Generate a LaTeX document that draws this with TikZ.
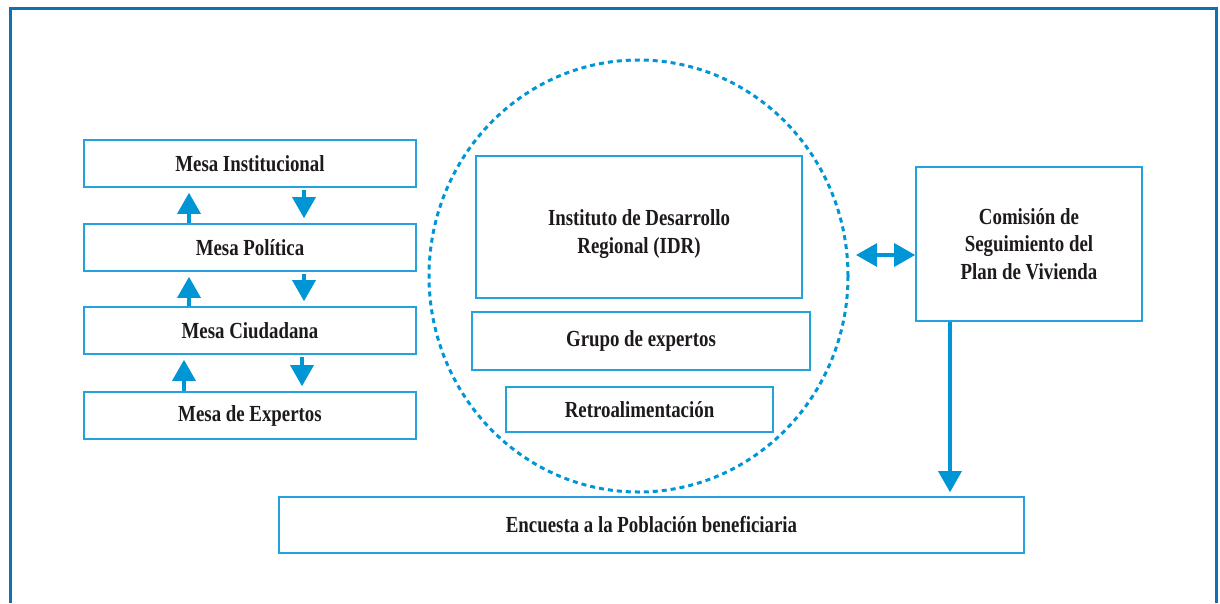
\documentclass[tikz,border=0pt]{standalone}
\usepackage{fontspec}
\setmainfont{Liberation Serif}[FakeStretch=0.82]
\usetikzlibrary{arrows.meta,shapes.geometric}
\definecolor{frameblue}{RGB}{16,112,180}
\definecolor{boxblue}{RGB}{35,162,222}
\definecolor{arrowblue}{RGB}{0,150,214}
\definecolor{ink}{RGB}{30,26,27}
\tikzset{
  mesa/.style={draw=boxblue,line width=1.6pt,text=ink,align=center,inner sep=0pt,
    font=\fontsize{23}{27.5}\selectfont\bfseries},
  flow/.style={draw=arrowblue,line width=3.2pt,-{Triangle[width=23pt,length=21pt]}},
  twoway/.style={draw=arrowblue,line width=3.2pt,{Triangle[width=23pt,length=21pt]}-{Triangle[width=23pt,length=21pt]}}
}
\begin{document}
\begin{tikzpicture}[x=1pt,y=-1pt]
\useasboundingbox (0,0) rectangle (1220,603);
\draw[frameblue,line width=3pt] (10,603) -- (10,8) -- (1216,8) -- (1216,603);

\node[mesa,minimum width=332pt,minimum height=47pt] (mi) at (250,163.5) {Mesa Institucional};
\node[mesa,minimum width=332pt,minimum height=47pt] (mp) at (250,247.5) {Mesa Política};
\node[mesa,minimum width=332pt,minimum height=47pt] (mc) at (250,330.5) {Mesa Ciudadana};
\node[mesa,minimum width=332pt,minimum height=47pt] (me) at (250,415.5) {Mesa de Expertos};

\foreach \lo/\hi/\ux/\dx in {mp/mi/189/304, mc/mp/189/304, me/mc/184/302}
 {
   \draw[flow,shorten >=5pt] (\lo.north -| \ux,0) -- (\hi.south -| \ux,0);
   \draw[flow,shorten <=2pt,shorten >=5pt] (\hi.south -| \dx,0) -- (\lo.north -| \dx,0);
 }

\node[ellipse,draw=arrowblue,line width=3pt,dash pattern=on 5pt off 4pt,
  minimum width=419pt,minimum height=432pt,inner sep=0pt] (ring) at (638.5,276) {};
\node[mesa,minimum width=326pt,minimum height=142pt] (idr) at (639,227) {\rule{0pt}{30pt}Instituto de Desarrollo\\Regional (IDR)};
\node[mesa,minimum width=338pt,minimum height=58pt] (grupo) at (641,341) {Grupo de expertos};
\node[mesa,minimum width=267pt,minimum height=45pt] (retro) at (639.5,409.5) {Retroalimentación};

\node[mesa,minimum width=226pt,minimum height=154pt] (comision) at (1029,244) {Comisión de\\Seguimiento del\\Plan de Vivienda};
\node[mesa,minimum width=745pt,minimum height=56pt] (encuesta) at (651.5,525) {Encuesta a la Población beneficiaria};

\coordinate (ringgap) at (856,255);
\draw[twoway] (ringgap) -- (comision.west |- ringgap);
\coordinate (downx) at (950,0);
\draw[flow,shorten >=4pt] (comision.south -| downx) -- (encuesta.north -| downx);
\end{tikzpicture}
\end{document}
